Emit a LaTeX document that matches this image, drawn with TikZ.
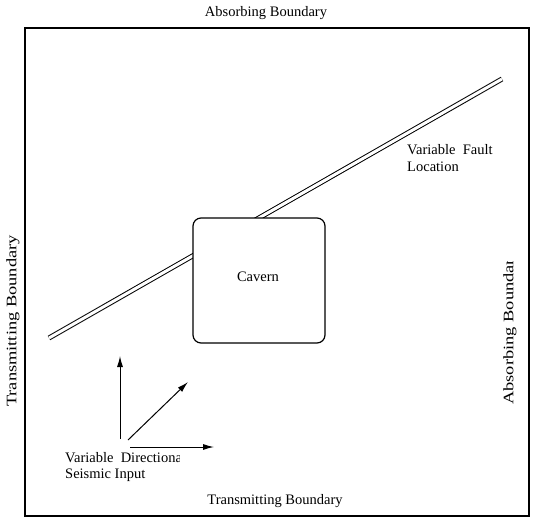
\documentclass[tikz,border=0pt]{standalone}
\usepackage{fontspec}
\setmainfont{Liberation Serif}
\usetikzlibrary{arrows.meta}
\begin{document}
\begin{tikzpicture}[x=1pt,y=-1pt,
  lbl/.style={font=\fontsize{14.5}{17}\selectfont, inner sep=0pt},
  fault/.style={double, double distance=3pt, line width=1pt},
  cavernbox/.style={draw, line width=1.2pt, fill=white, rounded corners=8pt},
  vec/.style={line width=1pt, -{Latex[length=11pt,width=6pt]}}]
\useasboundingbox (0,0) rectangle (533,522);
% outer domain
\node (dom) [draw, line width=1.3pt, inner sep=0pt, minimum width=504pt, minimum height=488pt] at (277,272) {};
% boundary labels
\node (top) [lbl] at (266,13) {Absorbing Boundary};
\node (bot) [lbl] at (275,501) {Transmitting Boundary};
\node (left) [lbl, rotate=90] at (13,321) {\scalebox{1.27}[1]{Transmitting Boundary}};
\begin{scope}
\clip (495,261) rectangle (528,420);
\node (right) [lbl, rotate=90, anchor=west] at (510,405) {\scalebox{1.27}[1]{Absorbing Boundary}};
\end{scope}
% fault
\coordinate (f1) at (49,338);
\coordinate (f2) at (502,79);
\draw[fault] (f1) -- (f2);
\node (fl1) [lbl, anchor=west] at (407,150) {Variable\ \ Fault};
\node (fl2) [lbl, anchor=west] at (407,167) {Location};
% cavern
\node (cav) [cavernbox, minimum width=132pt, minimum height=125pt] at (259,280.5) {};
\node (cavl) [lbl] at (258,277) {Cavern};
% seismic input
\coordinate (v0) at (120,439);
\coordinate (v1) at (120,356);
\coordinate (d0) at (128,440);
\coordinate (d1) at (188,382);
\coordinate (h0) at (130,447);
\coordinate (h1) at (214,447);
\draw[vec] (v0) -- (v1);
\draw[vec] (d0) -- (d1);
\draw[vec] (h0) -- (h1);
\begin{scope}
\clip (50,440) rectangle (179,470);
\node (sl1) [lbl, anchor=west] at (65,458) {Variable\ \ Directional};
\end{scope}
\node (sl2) [lbl, anchor=west] at (65,475) {Seismic Input};
\end{tikzpicture}
\end{document}
